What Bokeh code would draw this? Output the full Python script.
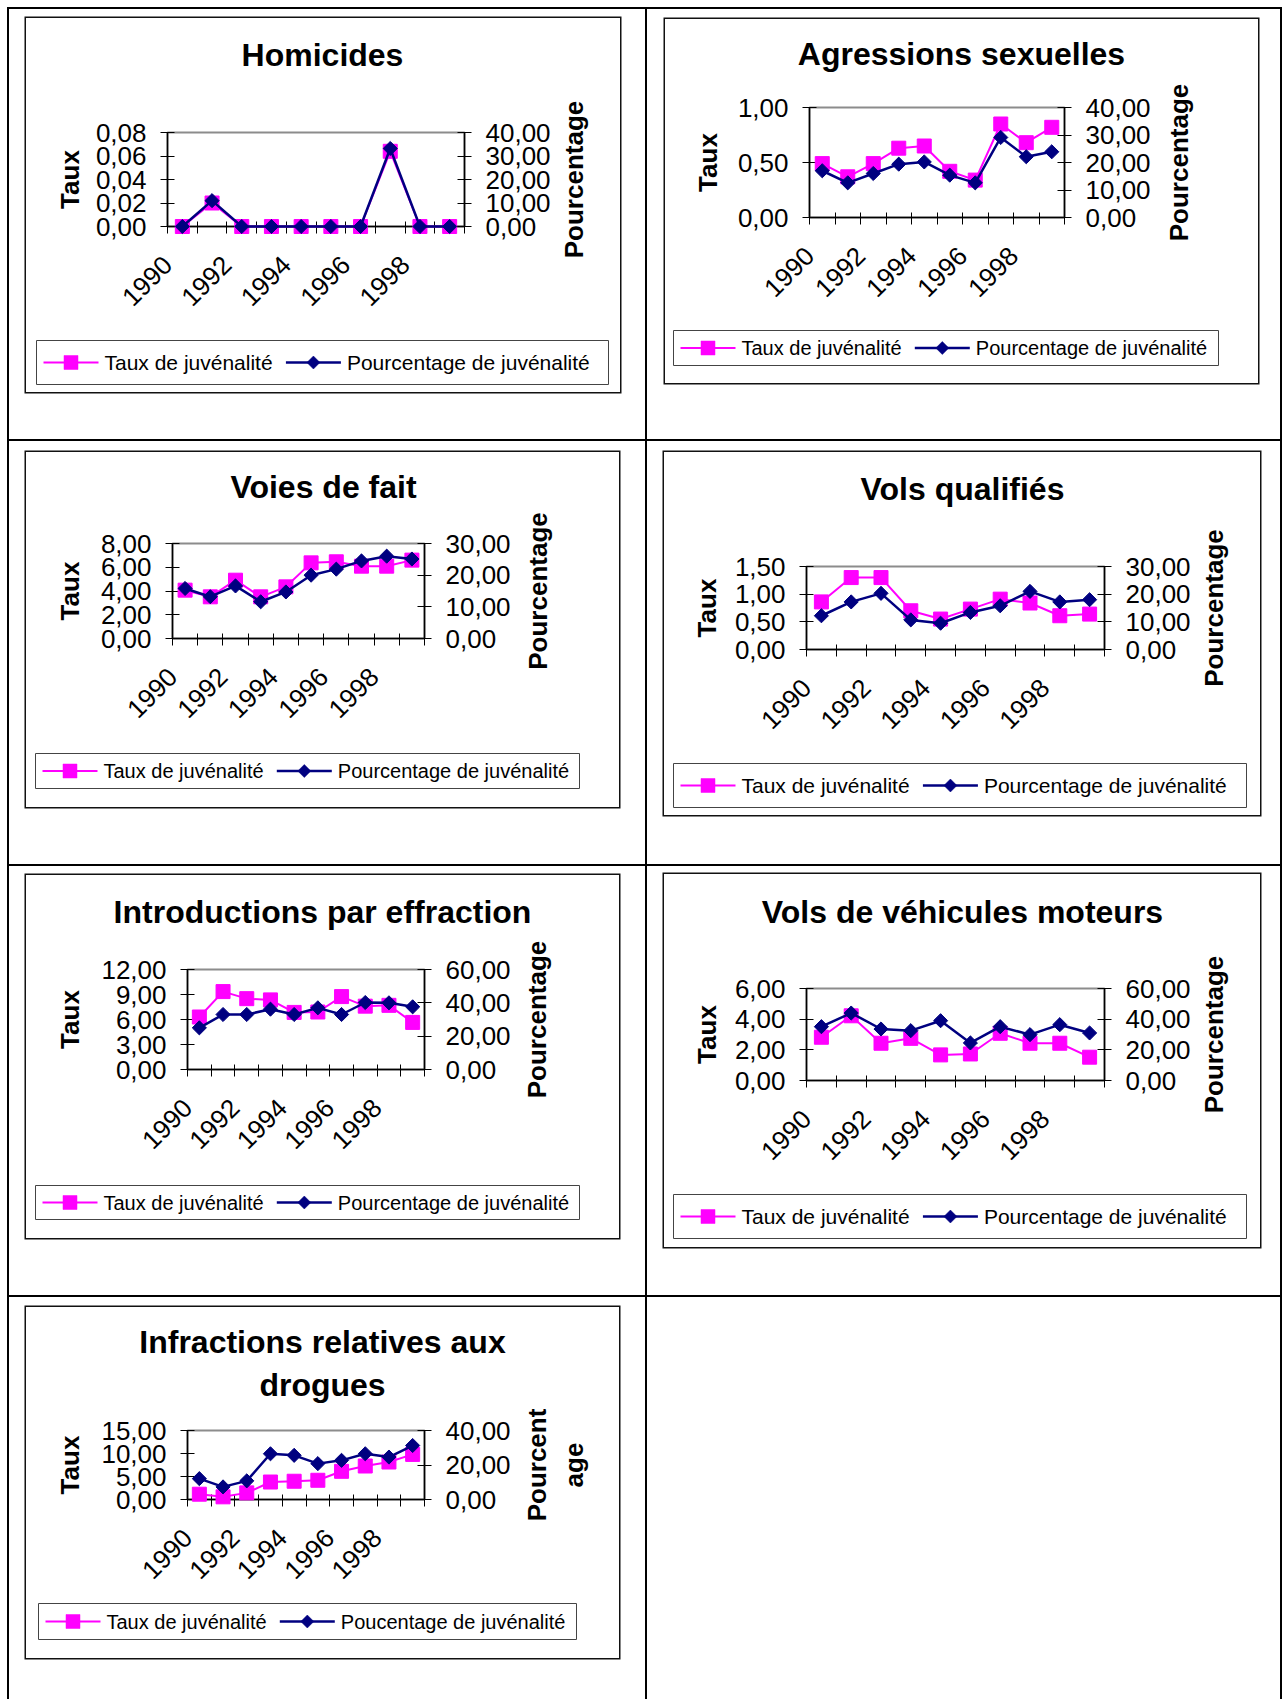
import math
from bokeh.plotting import figure
from bokeh.layouts import column, row
from bokeh.models import Range1d, LinearAxis, FixedTicker, Spacer
from bokeh.core.properties import value
from bokeh.embed import file_html
from bokeh.resources import INLINE

FONT = "Liberation Sans"
PINK = "#FF00FF"
NAVY = "#000080"

# ---------------- data ----------------
YEARS = [1990, 1991, 1992, 1993, 1994, 1995, 1996, 1997, 1998, 1999]
X_LABEL_YEARS = [1990, 1992, 1994, 1996, 1998]
X_LABELS = ["1990", "1992", "1994", "1996", "1998"]

TAUX_LEGEND = "Taux de juvénalité"
POURC_LEGEND = "Pourcentage de juvénalité"
POURC_LEGEND_DRG = "Poucentage de juvénalité"
TAUX_TITLE = "Taux"
POURC_TITLE = "Pourcentage"
POURC_TITLE_DRG = "Pourcent\nage"

HOM_TITLE = "Homicides"
HOM_TAUX = [0.000, 0.020, 0.000, 0.000, 0.000, 0.000, 0.000, 0.064, 0.000, 0.000]
HOM_POURC = [0.0, 11.0, 0.0, 0.0, 0.0, 0.0, 0.0, 33.2, 0.0, 0.0]
HOM_TAUX_TICKS = [0.0, 0.02, 0.04, 0.06, 0.08]
HOM_TAUX_LABELS = ["0,00", "0,02", "0,04", "0,06", "0,08"]
HOM_POURC_TICKS = [0, 10, 20, 30, 40]
HOM_POURC_LABELS = ["0,00", "10,00", "20,00", "30,00", "40,00"]

AGR_TITLE = "Agressions sexuelles"
AGR_TAUX = [0.49, 0.37, 0.49, 0.63, 0.65, 0.42, 0.34, 0.85, 0.68, 0.82]
AGR_POURC = [17.0, 12.6, 16.0, 19.4, 20.2, 15.4, 12.6, 29.1, 22.1, 23.9]
AGR_TAUX_TICKS = [0.0, 0.5, 1.0]
AGR_TAUX_LABELS = ["0,00", "0,50", "1,00"]
AGR_POURC_TICKS = [0, 10, 20, 30, 40]
AGR_POURC_LABELS = ["0,00", "10,00", "20,00", "30,00", "40,00"]

VDF_TITLE = "Voies de fait"
VDF_TAUX = [4.07, 3.51, 4.91, 3.51, 4.35, 6.37, 6.46, 6.09, 6.09, 6.60]
VDF_POURC = [15.8, 13.2, 16.6, 11.6, 14.7, 20.0, 21.9, 24.5, 26.0, 25.1]
VDF_TAUX_TICKS = [0, 2, 4, 6, 8]
VDF_TAUX_LABELS = ["0,00", "2,00", "4,00", "6,00", "8,00"]
VDF_POURC_TICKS = [0, 10, 20, 30]
VDF_POURC_LABELS = ["0,00", "10,00", "20,00", "30,00"]

VQ_TITLE = "Vols qualifiés"
VQ_TAUX = [0.86, 1.30, 1.30, 0.70, 0.55, 0.73, 0.91, 0.84, 0.61, 0.64]
VQ_POURC = [12.2, 17.2, 20.3, 10.7, 9.5, 13.4, 15.8, 21.0, 17.2, 18.0]
VQ_TAUX_TICKS = [0.0, 0.5, 1.0, 1.5]
VQ_TAUX_LABELS = ["0,00", "0,50", "1,00", "1,50"]
VQ_POURC_TICKS = [0, 10, 20, 30]
VQ_POURC_LABELS = ["0,00", "10,00", "20,00", "30,00"]

INT_TITLE = "Introductions par effraction"
INT_TAUX = [6.30, 9.35, 8.50, 8.35, 6.85, 6.90, 8.75, 7.60, 7.70, 5.65]
INT_POURC = [25.0, 33.0, 33.0, 36.2, 33.0, 37.0, 33.0, 40.2, 40.0, 37.6]
INT_TAUX_TICKS = [0, 3, 6, 9, 12]
INT_TAUX_LABELS = ["0,00", "3,00", "6,00", "9,00", "12,00"]
INT_POURC_TICKS = [0, 20, 40, 60]
INT_POURC_LABELS = ["0,00", "20,00", "40,00", "60,00"]

VV_TITLE = "Vols de véhicules moteurs"
VV_TAUX = [2.82, 4.22, 2.43, 2.75, 1.67, 1.73, 3.08, 2.43, 2.43, 1.52]
VV_POURC = [35.1, 44.0, 33.6, 32.5, 39.0, 24.5, 35.1, 29.9, 36.4, 31.0]
VV_TAUX_TICKS = [0, 2, 4, 6]
VV_TAUX_LABELS = ["0,00", "2,00", "4,00", "6,00"]
VV_POURC_TICKS = [0, 20, 40, 60]
VV_POURC_LABELS = ["0,00", "20,00", "40,00", "60,00"]

DRG_TITLE = "Infractions relatives aux\ndrogues"
DRG_TAUX = [1.15, 0.58, 1.44, 3.80, 3.97, 4.18, 6.13, 7.28, 8.15, 9.80]
DRG_POURC = [12.1, 7.3, 10.8, 26.5, 25.6, 20.8, 22.7, 26.5, 24.6, 31.3]
DRG_TAUX_TICKS = [0, 5, 10, 15]
DRG_TAUX_LABELS = ["0,00", "5,00", "10,00", "15,00"]
DRG_POURC_TICKS = [0, 20, 40]
DRG_POURC_LABELS = ["0,00", "20,00", "40,00"]

# ---------------- layout (page pixel coordinates) ----------------
X_LABEL_STANDOFF = 27
TICK_FONT = "26px"
TAUX_LEGEND_EM = 8.115  # advance width of the first legend label, in em

LAYOUTS = {
    "hom": dict(cell=(7, 7), box=(26, 18, 620, 392), frame=(167, 132, 464, 226), title=(322, 54.4),
                taux_x=69, pourc_x=573, legend=(36, 340, 608, 384), lfont=21),
    "agr": dict(cell=(645, 7), box=(665, 19, 1258, 383), frame=(809, 107, 1064, 217), title=(961, 53.4),
                taux_x=707, pourc_x=1178, legend=(673, 330, 1218, 365), lfont=20),
    "vdf": dict(cell=(7, 439), box=(26, 452, 619, 807), frame=(172, 543, 424, 638), title=(323, 486.4),
                taux_x=69, pourc_x=537, legend=(35, 753, 579, 788), lfont=20),
    "vq": dict(cell=(645, 439), box=(664, 452, 1260, 815), frame=(806, 566, 1104, 649), title=(962, 488.4),
               taux_x=706, pourc_x=1213, legend=(673, 763, 1246, 807), lfont=21),
    "int": dict(cell=(7, 864), box=(26, 875, 619, 1238), frame=(187, 969, 424, 1069), title=(322, 911.4),
                taux_x=69, pourc_x=536, legend=(35, 1185, 579, 1219), lfont=20),
    "vv": dict(cell=(645, 864), box=(664, 874, 1260, 1247), frame=(806, 988, 1104, 1080), title=(962, 911.4),
               taux_x=706, pourc_x=1213, legend=(673, 1194, 1246, 1238), lfont=21),
    "drg": dict(cell=(7, 1295), box=(26, 1307, 619, 1658), frame=(187, 1430, 424, 1499), title=(322, 1363),
                taux_x=69, pourc_x=555, legend=(38, 1603, 576, 1639), lfont=20),
}


def style_axis(ax, tick_in, tick_out, standoff):
    ax.axis_line_color = "black"
    ax.axis_line_width = 1.5
    ax.major_tick_line_color = "black"
    ax.major_tick_line_width = 1
    ax.major_tick_in = tick_in
    ax.major_tick_out = tick_out
    ax.minor_tick_line_color = None
    ax.major_label_standoff = standoff
    ax.major_label_text_font = FONT
    ax.major_label_text_font_size = TICK_FONT
    ax.major_label_text_color = "black"


def make_chart(title, taux, pourc, t_ticks, t_labels, p_ticks, p_labels, pourc_title, pourc_legend, L):
    bx0, by0, bx1, by1 = L["box"]
    fl, ft, fr, fb = L["frame"]
    xs0, xs1 = YEARS[0] - 0.5, YEARS[-1] + 0.5
    ys0, ys1 = t_ticks[0], t_ticks[-1]

    p = figure(width=bx1 - bx0, height=by1 - by0, output_backend="svg", toolbar_location=None,
               x_range=Range1d(xs0, xs1), y_range=Range1d(ys0, ys1),
               min_border_left=fl - bx0, min_border_right=bx1 - fr,
               min_border_top=ft - by0, min_border_bottom=by1 - fb,
               background_fill_color="white", border_fill_color="white",
               outline_line_color="#8c8c8c", outline_line_width=2)
    p.title.text = ""
    p.xgrid.visible = False
    p.ygrid.visible = False
    p.extra_y_ranges = {"pct": Range1d(p_ticks[0], p_ticks[-1])}
    right_axis = LinearAxis(y_range_name="pct")
    p.add_layout(right_axis, "right")

    # x axis: tick marks between categories, rotated labels ending at the category's left edge
    label_pos = [yv - 0.5 for yv in X_LABEL_YEARS]
    bounds = [yv - 0.5 for yv in YEARS] + [YEARS[-1] + 0.5]
    xa = p.xaxis[0]
    style_axis(xa, 0, 0, X_LABEL_STANDOFF)
    xa.ticker = FixedTicker(ticks=label_pos, minor_ticks=bounds)
    xa.major_label_overrides = dict(zip(label_pos, X_LABELS))
    xa.major_label_orientation = math.pi / 4
    xa.minor_tick_line_color = "black"
    xa.minor_tick_in = 5
    xa.minor_tick_out = 7

    ya = p.yaxis[0]
    style_axis(ya, 7, 7, 14)
    ya.ticker = FixedTicker(ticks=t_ticks)
    ya.major_label_overrides = dict(zip(t_ticks, t_labels))

    style_axis(right_axis, 7, 7, 14)
    right_axis.ticker = FixedTicker(ticks=p_ticks)
    right_axis.major_label_overrides = dict(zip(p_ticks, p_labels))

    pink_line = dict(line_color=PINK, line_width=2, level="overlay")
    pink_mark = dict(marker="square", size=14, fill_color=PINK, line_color=PINK, level="overlay")
    navy_line = dict(line_color=NAVY, line_width=2.5, level="overlay")
    navy_mark = dict(marker="square", angle=math.pi / 4, size=10, fill_color=NAVY, line_color=NAVY,
                     level="overlay")

    # series
    p.line(YEARS, taux, **pink_line)
    p.scatter(YEARS, taux, **pink_mark)
    p.line(YEARS, pourc, y_range_name="pct", **navy_line)
    p.scatter(YEARS, pourc, y_range_name="pct", **navy_mark)

    # texts and legend outside the frame, placed through the plot's own scales
    def dx(X):
        return xs0 + (X - fl) * (xs1 - xs0) / (fr - fl)

    def dy(Y):
        return ys0 + (fb - Y) * (ys1 - ys0) / (fb - ft)

    def add_text(text, X, Y, size, angle=0.0, align="center", bold=True, line_height=1.2):
        p.text(x=[dx(X)], y=[dy(Y)], text=[text], angle=angle, text_align=align, text_baseline="middle",
               text_font=value(FONT), text_font_size=value(f"{size}px"),
               text_font_style="bold" if bold else "normal",
               text_color="black", text_line_height=line_height, level="overlay")

    fcy = (ft + fb) / 2
    tx, ty = L["title"]
    add_text(title, tx, ty, 32, line_height=1.175)
    add_text(TAUX_TITLE, L["taux_x"], fcy, 26, angle=math.pi / 2)
    add_text(pourc_title, L["pourc_x"], fcy, 26, angle=math.pi / 2, line_height=1.225)

    # legend box with its two keys
    lx0, ly0, lx1, ly1 = L["legend"]
    lfs = L["lfont"]
    lcy = (ly0 + ly1) / 2
    p.quad(left=[dx(lx0)], right=[dx(lx1)], top=[dy(ly0)], bottom=[dy(ly1)],
           fill_color="white", line_color="#444", line_width=1, level="overlay")
    k1 = lx0 + 7
    t1 = k1 + 55 + 6
    k2 = t1 + TAUX_LEGEND_EM * lfs + 11
    t2 = k2 + 55 + 6
    m1 = k1 + 27.5
    m2 = k2 + 27.5
    p.segment(x0=[dx(k1)], y0=[dy(lcy)], x1=[dx(k1 + 55)], y1=[dy(lcy)], **pink_line)
    p.quad(left=[dx(m1 - 7)], right=[dx(m1 + 7)], top=[dy(lcy - 7)], bottom=[dy(lcy + 7)],
           fill_color=PINK, line_color=PINK, line_width=0.5, level="overlay")
    p.segment(x0=[dx(k2)], y0=[dy(lcy)], x1=[dx(k2 + 55)], y1=[dy(lcy)], **navy_line)
    p.patch(x=[dx(m2), dx(m2 + 6.5), dx(m2), dx(m2 - 6.5)],
            y=[dy(lcy - 6.5), dy(lcy), dy(lcy + 6.5), dy(lcy)],
            fill_color=NAVY, line_color=NAVY, line_width=0.5, level="overlay")
    add_text(TAUX_LEGEND, t1, lcy, lfs, align="left", bold=False)
    add_text(pourc_legend, t2, lcy, lfs, align="left", bold=False)

    cx, cy = L["cell"]
    p.margin = (by0 - cy, 0, 0, bx0 - cx)
    p.styles = {"box-shadow": "0 0 0 1.5px #111"}
    return p


def cell(child, w, h, right_edge):
    shadows = ["inset 2px 0 0 0 #000", "inset 0 2px 0 0 #000"]
    if right_edge:
        shadows.append("inset -2px 0 0 0 #000")
    return column(child, width=w, height=h, styles={"box-shadow": ", ".join(shadows)})


p_hom = make_chart(HOM_TITLE, HOM_TAUX, HOM_POURC, HOM_TAUX_TICKS, HOM_TAUX_LABELS,
                   HOM_POURC_TICKS, HOM_POURC_LABELS, POURC_TITLE, POURC_LEGEND, LAYOUTS["hom"])
p_agr = make_chart(AGR_TITLE, AGR_TAUX, AGR_POURC, AGR_TAUX_TICKS, AGR_TAUX_LABELS,
                   AGR_POURC_TICKS, AGR_POURC_LABELS, POURC_TITLE, POURC_LEGEND, LAYOUTS["agr"])
p_vdf = make_chart(VDF_TITLE, VDF_TAUX, VDF_POURC, VDF_TAUX_TICKS, VDF_TAUX_LABELS,
                   VDF_POURC_TICKS, VDF_POURC_LABELS, POURC_TITLE, POURC_LEGEND, LAYOUTS["vdf"])
p_vq = make_chart(VQ_TITLE, VQ_TAUX, VQ_POURC, VQ_TAUX_TICKS, VQ_TAUX_LABELS,
                  VQ_POURC_TICKS, VQ_POURC_LABELS, POURC_TITLE, POURC_LEGEND, LAYOUTS["vq"])
p_int = make_chart(INT_TITLE, INT_TAUX, INT_POURC, INT_TAUX_TICKS, INT_TAUX_LABELS,
                   INT_POURC_TICKS, INT_POURC_LABELS, POURC_TITLE, POURC_LEGEND, LAYOUTS["int"])
p_vv = make_chart(VV_TITLE, VV_TAUX, VV_POURC, VV_TAUX_TICKS, VV_TAUX_LABELS,
                  VV_POURC_TICKS, VV_POURC_LABELS, POURC_TITLE, POURC_LEGEND, LAYOUTS["vv"])
p_drg = make_chart(DRG_TITLE, DRG_TAUX, DRG_POURC, DRG_TAUX_TICKS, DRG_TAUX_LABELS,
                   DRG_POURC_TICKS, DRG_POURC_LABELS, POURC_TITLE_DRG, POURC_LEGEND_DRG, LAYOUTS["drg"])

COL_W = (638, 637)
ROW_H = (432, 425, 431, 404)

empty = Spacer(width=COL_W[1], height=ROW_H[3],
               styles={"box-shadow": "inset 2px 0 0 0 #000, inset 0 2px 0 0 #000, inset -2px 0 0 0 #000"})

root = column(
    row(cell(p_hom, COL_W[0], ROW_H[0], False), cell(p_agr, COL_W[1], ROW_H[0], True)),
    row(cell(p_vdf, COL_W[0], ROW_H[1], False), cell(p_vq, COL_W[1], ROW_H[1], True)),
    row(cell(p_int, COL_W[0], ROW_H[2], False), cell(p_vv, COL_W[1], ROW_H[2], True)),
    row(cell(p_drg, COL_W[0], ROW_H[3], False), empty),
)
root.margin = (7, 0, 0, 7)

open("out.html", "w").write(file_html(root, INLINE))
